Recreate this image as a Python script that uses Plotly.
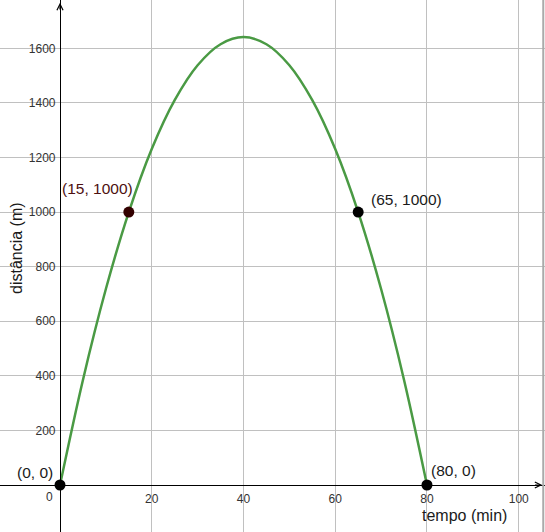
import plotly.graph_objects as go

# curve (distance vs time)
tempo = [0, 5, 10, 15, 20, 25, 30, 35, 40, 45, 50, 55, 60, 65, 70, 75, 80]
distancia = [0, 385, 718, 1000, 1231, 1410, 1538, 1615, 1641, 1615, 1538, 1410, 1231, 1000, 718, 385, 0]

# marked points and their labels
pt_x = [0, 15, 65, 80]
pt_y = [0, 1000, 1000, 0]
pt_labels = ["(0, 0)", "(15, 1000)", "(65, 1000)", "(80, 0)"]
pt_colors = ["#000000", "#330000", "#000000", "#000000"]
label_colors = ["#1a1a1a", "#4d1010", "#1a1a1a", "#1a1a1a"]

x_ticks = [20, 40, 60, 80, 100]
y_ticks = [200, 400, 600, 800, 1000, 1200, 1400, 1600]

W, H = 545, 532
x0, x1 = -13.08, 105.73
y0, y1 = -172.2, 1777

fig = go.Figure()
fig.add_trace(go.Scatter(x=tempo, y=distancia, mode="lines", line_shape="spline",
                         line=dict(color="#4a9a44", width=2.5), hoverinfo="skip"))
fig.add_trace(go.Scatter(x=pt_x, y=pt_y, mode="markers",
                         marker=dict(size=11, color=pt_colors), hoverinfo="skip"))

# label offsets in pixels (x shift, y shift)
offsets = [(-25, 13), (-31, 24), (48, 13), (27, 15)]
for x, y, t, c, (dx, dy) in zip(pt_x, pt_y, pt_labels, label_colors, offsets):
    fig.add_annotation(x=x, y=y, text=t, showarrow=False, xshift=dx, yshift=dy,
                       xanchor="center", yanchor="middle",
                       font=dict(size=15.5, color=c, family="Liberation Sans"))

# origin label
fig.add_annotation(x=0, y=0, text="0", showarrow=False, xshift=-11, yshift=-12,
                   xanchor="center", yanchor="middle",
                   font=dict(size=12, color="#333333", family="Liberation Sans"))

# axis arrows
fig.add_annotation(x=x1 - 0.6, y=0, ax=x1 - 2.5, ay=0, xref="x", yref="y", axref="x", ayref="y",
                   showarrow=True, arrowhead=5, arrowsize=1, arrowwidth=1.2, arrowcolor="#000000", text="")
fig.add_annotation(x=0, y=y1 - 10, ax=0, ay=y1 - 40, xref="x", yref="y", axref="x", ayref="y",
                   showarrow=True, arrowhead=5, arrowsize=1, arrowwidth=1.2, arrowcolor="#000000", text="")

# right frame line
fig.add_shape(type="line", xref="paper", yref="paper", x0=0.9968, x1=0.9968, y0=0, y1=1,
              line=dict(color="#aaaaaa", width=2))

xpos = (0 - x0) / (x1 - x0)
ypos = (0 - y0) / (y1 - y0)

fig.update_layout(
    width=W, height=H, margin=dict(l=0, r=0, t=0, b=0, autoexpand=False),
    paper_bgcolor="white", plot_bgcolor="white", showlegend=False,
    font=dict(family="Liberation Sans", color="#333333", size=12),
    xaxis=dict(range=[x0, x1], tickvals=x_ticks, showgrid=True, gridcolor="#c0c0c0", gridwidth=1,
               zeroline=False, showline=True, linecolor="#000000", linewidth=1.2,
               anchor="free", position=ypos, ticks="", ticklabelstandoff=2, automargin=False,
               title=None, fixedrange=True),
    yaxis=dict(range=[y0, y1], tickvals=y_ticks, showgrid=True, gridcolor="#c0c0c0", gridwidth=1,
               zeroline=False, showline=True, linecolor="#000000", linewidth=1.2,
               anchor="free", position=xpos, ticks="", ticklabelstandoff=2, automargin=False,
               title=None, fixedrange=True),
)

fig.add_annotation(xref="paper", yref="paper", x=464 / W, y=1 - 515 / H, text="tempo (min)",
                   xanchor="center", yanchor="middle", showarrow=False,
                   font=dict(size=16, color="#1a1a1a", family="Liberation Sans"))
fig.add_annotation(xref="paper", yref="paper", x=16 / W, y=1 - 248 / H, text="distância (m)",
                   xanchor="center", yanchor="middle", showarrow=False, textangle=-90,
                   font=dict(size=16, color="#1a1a1a", family="Liberation Sans"))

# remove the default page margin so the figure fills the window
fig.write_html("out.html", config={"displayModeBar": False},
               post_script="document.body.style.margin='0';document.body.style.overflow='hidden';")
